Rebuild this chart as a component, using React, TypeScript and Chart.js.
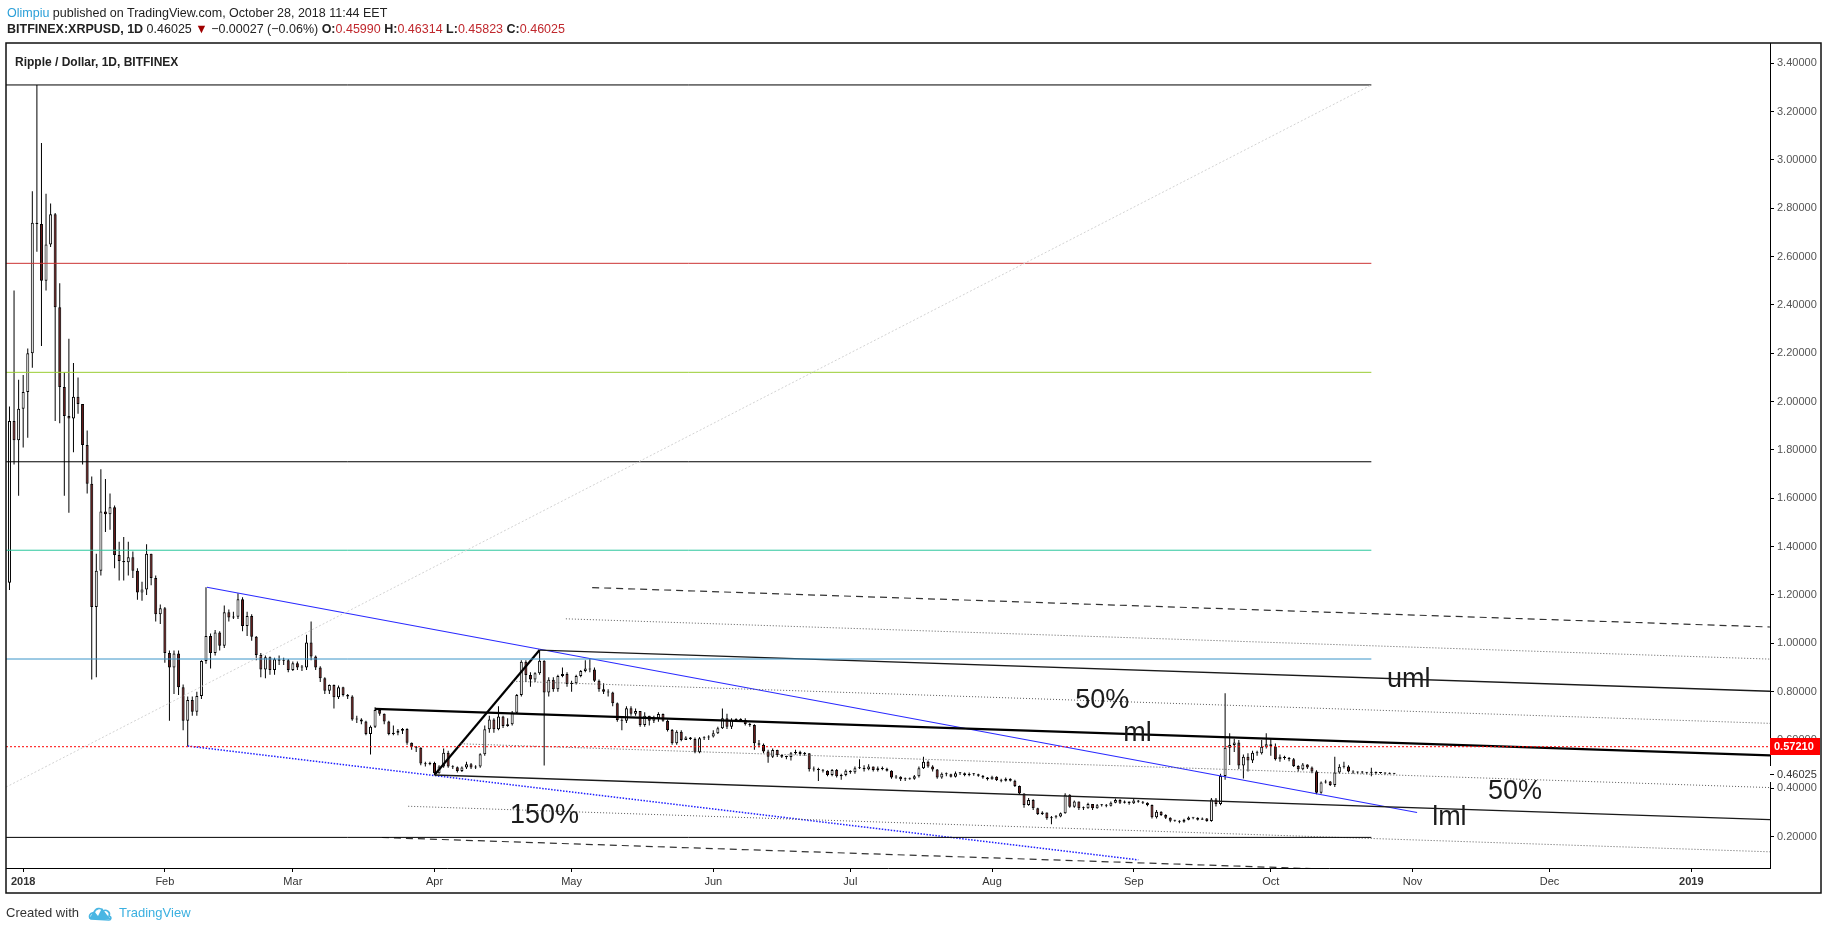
import React, { useEffect, useRef } from "react";
import { Chart, registerables } from "chart.js";

Chart.register(...registerables);

const FONT = '"Liberation Sans", Arial, Helvetica, sans-serif';

// ---------------- data ----------------
// days are counted from Jan 1, 2018 (day 0); first candle is Dec 29, 2017
const firstDay = -3;
const firstOpen = 1.25;

const closes = [
  1.92, 1.84, 1.97, 2.04, 2.20, 2.74, 2.735, 2.50, 2.65, 2.775,
  2.39, 2.06, 1.94, 1.93, 2.02, 1.99, 1.82, 1.66, 1.15, 1.30,
  1.545, 1.534, 1.563, 1.365, 1.34, 1.335, 1.356, 1.30, 1.21, 1.223,
  1.37, 1.27, 1.12, 1.145, 0.96, 0.90, 0.958, 0.818, 0.68, 0.765,
  0.717, 0.782, 0.927, 1.03, 0.96, 1.045, 0.99, 1.128, 1.107, 1.11,
  1.182, 1.072, 1.113, 1.027, 0.952, 0.892, 0.942, 0.89, 0.934, 0.928,
  0.93, 0.89, 0.917, 0.90, 0.90, 1.003, 0.945, 0.90, 0.855, 0.804,
  0.827, 0.777, 0.818, 0.786, 0.78, 0.685, 0.685, 0.676, 0.625, 0.655,
  0.724, 0.708, 0.676, 0.625, 0.63, 0.638, 0.645, 0.589, 0.572, 0.568,
  0.503, 0.50, 0.505, 0.462, 0.49, 0.547, 0.49, 0.487, 0.472, 0.486,
  0.50, 0.486, 0.49, 0.541, 0.644, 0.685, 0.644, 0.697, 0.658, 0.665,
  0.713, 0.786, 0.924, 0.869, 0.85, 0.876, 0.928, 0.796, 0.849, 0.81,
  0.865, 0.873, 0.832, 0.835, 0.865, 0.885, 0.896, 0.892, 0.845, 0.81,
  0.80, 0.796, 0.752, 0.683, 0.68, 0.731, 0.708, 0.72, 0.662, 0.70,
  0.68, 0.69, 0.707, 0.68, 0.641, 0.586, 0.634, 0.60, 0.61, 0.604,
  0.549, 0.607, 0.61, 0.614, 0.628, 0.648, 0.69, 0.655, 0.683, 0.683,
  0.683, 0.666, 0.662, 0.586, 0.58, 0.552, 0.531, 0.558, 0.538, 0.531,
  0.53, 0.545, 0.55, 0.542, 0.545, 0.479, 0.478, 0.476, 0.473, 0.455,
  0.476, 0.45, 0.455, 0.473, 0.466, 0.483, 0.485, 0.479, 0.49, 0.476,
  0.483, 0.48, 0.473, 0.445, 0.448, 0.438, 0.437, 0.44, 0.45, 0.483,
  0.51, 0.49, 0.478, 0.445, 0.46, 0.458, 0.448, 0.462, 0.462, 0.455,
  0.459, 0.458, 0.452, 0.445, 0.437, 0.448, 0.434, 0.431, 0.44, 0.431,
  0.41, 0.379, 0.331, 0.352, 0.317, 0.294, 0.30, 0.276, 0.28, 0.283,
  0.297, 0.373, 0.324, 0.345, 0.317, 0.317, 0.335, 0.317, 0.33, 0.332,
  0.328, 0.34, 0.352, 0.34, 0.345, 0.338, 0.35, 0.344, 0.34, 0.331,
  0.28, 0.303, 0.29, 0.278, 0.266, 0.266, 0.262, 0.27, 0.279, 0.278,
  0.27, 0.275, 0.265, 0.354, 0.335, 0.451, 0.568, 0.579, 0.59, 0.494,
  0.531, 0.515, 0.547, 0.545, 0.572, 0.582, 0.573, 0.52, 0.531, 0.525,
  0.52, 0.492, 0.479, 0.499, 0.486, 0.47, 0.382, 0.424, 0.428, 0.414,
  0.465, 0.489, 0.49, 0.47, 0.465, 0.467, 0.465, 0.464, 0.468, 0.463,
  0.464, 0.461, 0.4599, 0.46025,
];

const highs = [
  1.98, 2.46, 2.09, 2.11, 2.22, 2.87, 3.31, 3.07, 2.86, 2.82,
  2.78, 2.49, 2.12, 2.26, 2.16, 2.10, 1.99, 1.88, 1.69, 1.37,
  1.72, 1.68, 1.62, 1.57, 1.42, 1.44, 1.42, 1.38, 1.31, 1.255,
  1.41, 1.37, 1.28, 1.16, 1.15, 0.97, 0.97, 0.97, 0.83, 0.78,
  0.78, 0.80, 0.93, 1.232, 1.04, 1.055, 1.05, 1.156, 1.14, 1.13,
  1.207, 1.19, 1.13, 1.12, 1.03, 0.96, 0.95, 0.945, 0.94, 0.95,
  0.94, 0.935, 0.925, 0.925, 0.91, 1.035, 1.09, 0.95, 0.905, 0.86,
  0.83, 0.83, 0.825, 0.82, 0.79, 0.785, 0.70, 0.69, 0.68, 0.66,
  0.735, 0.73, 0.71, 0.68, 0.66, 0.645, 0.65, 0.648, 0.59, 0.575,
  0.57, 0.51, 0.51, 0.51, 0.495, 0.565, 0.555, 0.495, 0.49, 0.49,
  0.51, 0.505, 0.495, 0.545, 0.66, 0.70, 0.69, 0.74, 0.70, 0.69,
  0.72, 0.79, 0.93, 0.93, 0.88, 0.88, 0.972, 0.93, 0.86, 0.86,
  0.87, 0.90, 0.88, 0.845, 0.87, 0.89, 0.93, 0.935, 0.90, 0.85,
  0.835, 0.81, 0.80, 0.755, 0.69, 0.74, 0.74, 0.73, 0.72, 0.715,
  0.70, 0.70, 0.715, 0.71, 0.685, 0.645, 0.64, 0.64, 0.615, 0.612,
  0.61, 0.612, 0.615, 0.62, 0.64, 0.655, 0.73, 0.708, 0.69, 0.69,
  0.69, 0.69, 0.67, 0.665, 0.60, 0.585, 0.56, 0.565, 0.56, 0.54,
  0.535, 0.55, 0.56, 0.555, 0.55, 0.545, 0.49, 0.485, 0.48, 0.475,
  0.48, 0.48, 0.46, 0.478, 0.475, 0.49, 0.52, 0.495, 0.50, 0.49,
  0.49, 0.49, 0.485, 0.475, 0.455, 0.45, 0.445, 0.445, 0.455, 0.49,
  0.531, 0.515, 0.495, 0.48, 0.465, 0.465, 0.46, 0.47, 0.468, 0.465,
  0.465, 0.463, 0.46, 0.455, 0.447, 0.452, 0.45, 0.44, 0.445, 0.442,
  0.435, 0.412, 0.38, 0.36, 0.355, 0.32, 0.305, 0.30, 0.285, 0.29,
  0.30, 0.38, 0.375, 0.35, 0.345, 0.325, 0.34, 0.335, 0.335, 0.335,
  0.335, 0.345, 0.358, 0.355, 0.35, 0.345, 0.356, 0.352, 0.347, 0.342,
  0.333, 0.31, 0.305, 0.293, 0.28, 0.27, 0.268, 0.274, 0.283, 0.28,
  0.28, 0.279, 0.277, 0.36, 0.36, 0.46, 0.793, 0.628, 0.605, 0.60,
  0.54, 0.545, 0.555, 0.555, 0.60, 0.628, 0.605, 0.585, 0.54, 0.535,
  0.53, 0.525, 0.495, 0.505, 0.50, 0.49, 0.475, 0.428, 0.435, 0.43,
  0.531, 0.50, 0.51, 0.495, 0.475, 0.47, 0.472, 0.468, 0.485, 0.47,
  0.468, 0.466, 0.465, 0.46314,
];

const lows = [
  1.22, 1.74, 1.61, 1.81, 1.85, 2.14, 2.62, 2.23, 2.46, 2.64,
  1.92, 1.91, 1.61, 1.54, 1.79, 1.95, 1.74, 1.62, 0.85, 0.86,
  1.28, 1.46, 1.47, 1.31, 1.26, 1.26, 1.28, 1.27, 1.18, 1.176,
  1.20, 1.24, 1.09, 1.08, 0.92, 0.68, 0.79, 0.786, 0.64, 0.575,
  0.70, 0.70, 0.77, 0.915, 0.896, 0.95, 0.97, 0.98, 1.09, 1.10,
  1.10, 1.05, 1.03, 1.01, 0.93, 0.86, 0.855, 0.87, 0.87, 0.91,
  0.91, 0.88, 0.885, 0.89, 0.885, 0.89, 0.93, 0.89, 0.84, 0.79,
  0.79, 0.73, 0.77, 0.78, 0.77, 0.68, 0.67, 0.665, 0.62, 0.54,
  0.65, 0.70, 0.665, 0.62, 0.62, 0.62, 0.625, 0.58, 0.56, 0.55,
  0.495, 0.49, 0.495, 0.455, 0.46, 0.485, 0.485, 0.48, 0.465, 0.468,
  0.48, 0.48, 0.48, 0.485, 0.535, 0.63, 0.63, 0.64, 0.65, 0.655,
  0.66, 0.71, 0.78, 0.84, 0.82, 0.84, 0.87, 0.494, 0.78, 0.80,
  0.80, 0.86, 0.82, 0.80, 0.83, 0.86, 0.88, 0.88, 0.84, 0.80,
  0.79, 0.78, 0.74, 0.675, 0.64, 0.67, 0.70, 0.70, 0.655, 0.655,
  0.66, 0.67, 0.675, 0.675, 0.635, 0.58, 0.58, 0.595, 0.60, 0.60,
  0.545, 0.545, 0.60, 0.60, 0.61, 0.625, 0.645, 0.645, 0.645, 0.675,
  0.675, 0.66, 0.655, 0.56, 0.57, 0.545, 0.506, 0.525, 0.53, 0.525,
  0.52, 0.515, 0.54, 0.535, 0.535, 0.47, 0.47, 0.43, 0.465, 0.45,
  0.45, 0.445, 0.435, 0.45, 0.46, 0.46, 0.48, 0.47, 0.475, 0.47,
  0.47, 0.475, 0.47, 0.44, 0.44, 0.43, 0.43, 0.435, 0.435, 0.445,
  0.48, 0.485, 0.47, 0.44, 0.44, 0.45, 0.445, 0.445, 0.455, 0.45,
  0.45, 0.452, 0.448, 0.44, 0.432, 0.435, 0.43, 0.425, 0.428, 0.428,
  0.405, 0.372, 0.32, 0.328, 0.31, 0.29, 0.29, 0.27, 0.251, 0.275,
  0.28, 0.295, 0.32, 0.32, 0.31, 0.31, 0.315, 0.31, 0.315, 0.325,
  0.322, 0.325, 0.338, 0.335, 0.337, 0.332, 0.335, 0.34, 0.335, 0.326,
  0.275, 0.275, 0.285, 0.273, 0.26, 0.262, 0.255, 0.258, 0.268, 0.272,
  0.267, 0.27, 0.262, 0.262, 0.325, 0.33, 0.435, 0.496, 0.55, 0.48,
  0.441, 0.47, 0.505, 0.535, 0.54, 0.565, 0.535, 0.515, 0.51, 0.518,
  0.512, 0.488, 0.47, 0.475, 0.48, 0.462, 0.375, 0.378, 0.42, 0.41,
  0.405, 0.46, 0.482, 0.465, 0.46, 0.46, 0.46, 0.458, 0.45, 0.458,
  0.46, 0.457, 0.458, 0.45823,
];

const monthTickDays = [0, 31, 59, 90, 120, 151, 181, 212, 243, 273, 304, 334, 365];
const monthTickLabels = ["2018", "Feb", "Mar", "Apr", "May", "Jun", "Jul", "Aug", "Sep", "Oct", "Nov", "Dec", "2019"];
const priceTickValues = [0.2, 0.4, 0.6, 0.8, 1.0, 1.2, 1.4, 1.6, 1.8, 2.0, 2.2, 2.4, 2.6, 2.8, 3.0, 3.2, 3.4];

const xView = [-3.76, 382.23];
const yView = [0.0703, 3.4836];

const levelPrices = [3.31, 2.572, 2.121, 1.751, 1.385, 0.935, 0.197];
const levelColors = ["#000000", "#cc3333", "#9acd32", "#000000", "#2bc79d", "#3a94c8", "#000000"];
const levelSpan = [-3.76, 295];

const lastPrice = 0.46025;
const markedPrice = 0.5721;

const pitchforkPivots = [[77, 0.729], [113, 0.972], [90, 0.455]];
const pitchforkLevels = [2, 1.5, 1, 0.5, 0, -0.5, -1, -1.5, -2];

const blueTrend = [[40.2, 1.232], [305, 0.3]];
const blueDotted = [[36, 0.575], [244, 0.104]];
const grayDiagonal = [[-3.76, 0.405], [295, 3.31]];

const annotationTexts = ["50%", "ml", "uml", "50%", "lml", "150%"];
const annotationDays = [230.2, 240.7, 298.4, 320.5, 308.3, 106.5];
const annotationPrices = [0.734, 0.596, 0.819, 0.356, 0.248, 0.2565];

// ---------------- helpers ----------------
type Pt = number[];

function segment(pts: Pt[], color: string, width: number, dash: number[] = []) {
  return {
    type: "line" as const,
    data: pts.map(([x, y]) => ({ x, y })),
    borderColor: color,
    borderWidth: width,
    borderDash: dash,
    pointRadius: 0,
    pointHoverRadius: 0,
    fill: false,
    tension: 0,
    order: 1,
  };
}

function buildDatasets() {
  const days = closes.map((_, i) => firstDay + i);
  const opens = closes.map((_, i) => (i === 0 ? firstOpen : closes[i - 1]));

  const bodies = {
    type: "bar" as const,
    data: days.map((d, i) => ({ x: d, y: [opens[i], closes[i]] })),
    backgroundColor: days.map((_, i) => (closes[i] >= opens[i] ? "#ffffff" : "#6b1a1a")),
    borderColor: "#000000",
    borderWidth: 1,
    borderSkipped: false,
    barThickness: 3,
    minBarLength: 1,
    grouped: false,
    inflateAmount: 0,
    order: 5,
  };
  const wicks = {
    type: "bar" as const,
    data: days.map((d, i) => ({ x: d, y: [lows[i], highs[i]] })),
    backgroundColor: "#000000",
    borderWidth: 0,
    barThickness: 1,
    grouped: false,
    inflateAmount: 0,
    order: 6,
  };

  const lines: any[] = [];
  lines.push(segment(grayDiagonal, "#d2d2d2", 1, [2, 2]));
  levelPrices.forEach((p, i) => {
    lines.push(segment([[levelSpan[0], p], [levelSpan[1], p]], levelColors[i], 1));
  });
  lines.push(segment([[xView[0], markedPrice], [xView[1], markedPrice]], "#ff0000", 1, [2, 2]));

  // Andrews pitchfork
  const [p1, p2, p3] = pitchforkPivots;
  const mid = [(p2[0] + p3[0]) / 2, (p2[1] + p3[1]) / 2];
  const slope = (mid[1] - p1[1]) / (mid[0] - p1[0]);
  const half = [p2[0] - mid[0], p2[1] - mid[1]];
  pitchforkLevels.forEach((k) => {
    const start = k === 0 ? p1 : [mid[0] + k * half[0], mid[1] + k * half[1]];
    const end = [xView[1], start[1] + slope * (xView[1] - start[0])];
    const a = Math.abs(k);
    if (a === 0) lines.push(segment([start, end], "#000000", 2.2));
    else if (a === 1) lines.push(segment([start, end], "#1a1a1a", 1.3));
    else if (a === 2) lines.push(segment([start, end], "#333333", 1.2, [7, 5]));
    else lines.push(segment([start, end], "#5a5a5a", 1, [1, 2]));
  });
  lines.push(segment([p3, p2], "#000000", 2.2));

  lines.push(segment(blueTrend, "#2a2aff", 1.2));
  lines.push(segment(blueDotted, "#1f1fff", 1.5, [1.5, 1.5]));

  return [...lines, bodies, wicks];
}

const overlayPlugin = {
  id: "tvOverlay",
  afterDatasetsDraw(chart: any) {
    const { ctx, scales } = chart;
    const xs = scales.x;
    const ys = scales.y;
    ctx.save();
    ctx.beginPath();
    ctx.rect(chart.chartArea.left, chart.chartArea.top, chart.chartArea.right - chart.chartArea.left, chart.chartArea.bottom - chart.chartArea.top);
    ctx.clip();
    ctx.font = `27px ${FONT}`;
    ctx.fillStyle = "#1c1c1c";
    ctx.textAlign = "left";
    ctx.textBaseline = "alphabetic";
    annotationTexts.forEach((t, i) => {
      ctx.fillText(t, xs.getPixelForValue(annotationDays[i]), ys.getPixelForValue(annotationPrices[i]));
    });
    ctx.restore();
  },
  afterDraw(chart: any) {
    const { ctx, scales, chartArea } = chart;
    const ys = scales.y;
    const right = chartArea.right;
    ctx.save();
    // last price label
    const yl = Math.round(ys.getPixelForValue(lastPrice));
    ctx.fillStyle = "#ffffff";
    ctx.fillRect(right - 3, yl - 8, 52, 16);
    ctx.strokeStyle = "#000";
    ctx.lineWidth = 1;
    ctx.beginPath();
    ctx.moveTo(right, yl + 0.5);
    ctx.lineTo(right + 4, yl + 0.5);
    ctx.stroke();
    ctx.font = `11px ${FONT}`;
    ctx.fillStyle = "#333333";
    ctx.textBaseline = "middle";
    ctx.textAlign = "left";
    ctx.fillText(lastPrice.toFixed(5), right + 7, yl + 1);
    // marked price tag
    const ym = Math.round(ys.getPixelForValue(markedPrice));
    ctx.fillStyle = "#ff0000";
    ctx.fillRect(right, ym - 9, 50, 17);
    ctx.fillStyle = "#ffffff";
    ctx.font = `bold 11px ${FONT}`;
    ctx.fillText(markedPrice.toFixed(5), right + 4, ym);
    // outer frame
    ctx.strokeStyle = "#111";
    ctx.lineWidth = 1.5;
    ctx.strokeRect(6, 43, 1815, 850);
    ctx.restore();
  },
};

export default function App() {
  const canvasRef = useRef<HTMLCanvasElement | null>(null);

  useEffect(() => {
    document.body.style.margin = "0";
    document.body.style.background = "#ffffff";
    const canvas = canvasRef.current;
    if (!canvas) return;
    Chart.defaults.font.family = FONT;
    const chart = new Chart(canvas, {
      type: "bar",
      data: { datasets: buildDatasets() as any },
      options: {
        responsive: false,
        animation: false,
        events: [],
        layout: { padding: { left: 6, right: 7, top: 43, bottom: 37 } },
        plugins: { legend: { display: false }, tooltip: { enabled: false } },
        scales: {
          x: {
            type: "linear",
            min: xView[0],
            max: xView[1],
            offset: false,
            afterBuildTicks: (s: any) => {
              s.ticks = monthTickDays.map((v) => ({ value: v }));
            },
            afterFit: (s: any) => {
              s.height = 25;
            },
            ticks: {
              autoSkip: false,
              maxRotation: 0,
              padding: 3,
              color: "#333333",
              callback: (v: any) => monthTickLabels[monthTickDays.indexOf(Number(v))],
              font: (c: any) => ({
                size: 11,
                family: FONT,
                weight: c.index === 0 || c.index === monthTickLabels.length - 1 ? "bold" : "normal",
              }),
            },
            grid: { offset: false, drawOnChartArea: false, drawTicks: true, tickLength: 4, color: "#000000" },
            border: { display: true, color: "#000000", width: 1 },
          },
          y: {
            type: "linear",
            position: "right",
            min: yView[0],
            max: yView[1],
            afterBuildTicks: (s: any) => {
              s.ticks = priceTickValues.map((v) => ({ value: v }));
            },
            afterFit: (s: any) => {
              s.width = 51;
            },
            ticks: {
              autoSkip: false,
              padding: 3,
              color: "#555555",
              font: { size: 11, family: FONT },
              callback: (v: any) => Number(v).toFixed(5),
            },
            grid: { offset: false, drawOnChartArea: false, drawTicks: true, tickLength: 4, color: "#000000" },
            border: { display: true, color: "#000000", width: 1 },
          },
        },
      } as any,
      plugins: [overlayPlugin],
    });
    return () => chart.destroy();
  }, []);

  const red = "#c0282d";
  return (
    <div style={{ position: "absolute", left: 0, top: 0, width: 1828, height: 930, background: "#fff", fontFamily: FONT, color: "#222", overflow: "hidden" }}>
      <canvas ref={canvasRef} width={1828} height={930} style={{ position: "absolute", left: 0, top: 0, display: "block" }} />
      <div style={{ position: "absolute", left: 7, top: 5, fontSize: 12.5, lineHeight: "16px", whiteSpace: "nowrap" }}>
        <span style={{ color: "#2a9fd8" }}>Olimpiu</span> published on TradingView.com, October 28, 2018 11:44 EET
      </div>
      <div style={{ position: "absolute", left: 7, top: 21, fontSize: 12.5, lineHeight: "16px", whiteSpace: "nowrap" }}>
        <b>BITFINEX:XRPUSD, 1D</b> 0.46025 <span style={{ color: "#a00000" }}>▼</span> −0.00027 (−0.06%) <b>O:</b>
        <span style={{ color: red }}>0.45990</span> <b>H:</b><span style={{ color: red }}>0.46314</span> <b>L:</b>
        <span style={{ color: red }}>0.45823</span> <b>C:</b><span style={{ color: red }}>0.46025</span>
      </div>
      <div style={{ position: "absolute", left: 15, top: 54, fontSize: 12, fontWeight: "bold", lineHeight: "16px", whiteSpace: "nowrap" }}>
        Ripple / Dollar, 1D, BITFINEX
      </div>
      <div style={{ position: "absolute", left: 6, top: 904, fontSize: 13, lineHeight: "18px", whiteSpace: "nowrap", display: "flex", alignItems: "center" }}>
        <span style={{ color: "#333" }}>Created with</span>
        <svg width="26" height="16" viewBox="0 0 26 16" style={{ marginLeft: 8, marginRight: 6 }}>
          <path d="M2 14 L7 6 L11 11 L15 3 L20 10 L24 14 Z" fill="#49b6e3" />
          <path d="M4 14 C1 12 3 7 7 8 C8 3 14 2 16 6 C19 4 24 7 22 11 C25 12 24 15 22 15 Z" fill="none" stroke="#49b6e3" strokeWidth="1.6" />
        </svg>
        <span style={{ color: "#3bb0e0" }}>TradingView</span>
      </div>
    </div>
  );
}
